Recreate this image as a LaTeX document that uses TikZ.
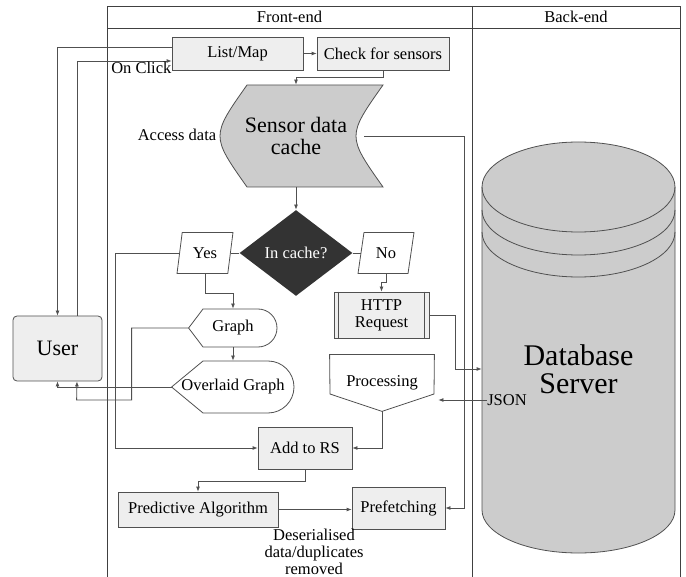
\documentclass[tikz,border=0pt]{standalone}
\usepackage{fontspec}
\setmainfont{Liberation Serif}
\usetikzlibrary{shapes.geometric,arrows.meta,calc}
\definecolor{linegray}{HTML}{505050}
\definecolor{boxfill}{HTML}{EEEEEE}
\definecolor{cachefill}{HTML}{CCCCCC}
\definecolor{darkfill}{HTML}{333333}
\newcommand{\txt}{\fontsize{16.5}{17}\selectfont}
\newcommand{\bigtxt}{\fontsize{22}{22}\selectfont}
\newcommand{\hugetxt}{\fontsize{30}{28}\selectfont}

\begin{document}
\begin{tikzpicture}[x=1pt, y=-1pt, line width=0.8pt,
    every node/.style={font=\txt, inner sep=0pt},
    link/.style={draw=linegray},
    arrow/.style={draw=linegray, -{Latex[length=5pt,width=4pt]}},
    process/.style={rectangle, draw=linegray, fill=boxfill, align=center},
    choice/.style={trapezium, draw=linegray, trapezium left angle=76,
      trapezium right angle=104, trapezium stretches=true,
      minimum width=56pt, minimum height=41pt},
    lane/.style={draw=black!75, line width=0.7pt}]

   \useasboundingbox (0,0) rectangle (686,577);

   % swimlanes
   \draw[lane] (107,577) -- (107,6) -- (680,6) -- (680,577);
   \draw[lane] (472,6) -- (472,577);
   \draw[lane] (107,28) -- (680,28);
   \node (front) at (289.5,17) {Front-end};
   \node (back)  at (576,17)   {Back-end};

   % database server
   \filldraw[draw=linegray, fill=cachefill] (482,187)
      arc[start angle=180, end angle=360, x radius=96.5, y radius=45]
      -- (675,510) arc[start angle=0, end angle=180, x radius=96.5, y radius=43]
      -- cycle;
   \foreach \y in {187,210,232}
      \draw[link] (482,\y) arc[start angle=180, end angle=0, x radius=96.5, y radius=45];
   \node[font=\hugetxt, align=center, minimum width=193pt] (db) at (578.5,369) {Database\\Server};

   % sensor data cache
   \filldraw[draw=linegray, fill=cachefill] (247,85) -- (383,85)
      .. controls (347,136) .. (383,187) -- (247,187)
      .. controls (211,136) .. (247,85) -- cycle;
   \node[font=\bigtxt, align=center, minimum width=136pt, minimum height=102pt] (cache) at (296,136) {Sensor data\\cache};

   \node[process, minimum width=131pt, minimum height=33pt] (listmap)  at (237.5,53.5) {List/Map};
   \node[process, minimum width=132pt, minimum height=33pt] (check)    at (383,53.5)   {Check for sensors};
   \node[process, rounded corners=4pt, font=\bigtxt,
         minimum width=89pt, minimum height=65pt]           (user)     at (57.5,348.5) {User};
   \node[process, minimum width=95pt, minimum height=46pt]  (http)     at (381.5,315)  {HTTP\\Request};
   \node[process, minimum width=94pt, minimum height=42pt]  (addrs)    at (305,448)    {Add to RS};
   \node[process, minimum width=160pt, minimum height=35pt] (pred)     at (198,509.5)  {Predictive Algorithm};
   \node[process, minimum width=93pt, minimum height=42pt]  (prefetch) at (398.5,508)  {Prefetching};
   \draw[link] ([xshift=5pt]http.north west) -- ([xshift=5pt]http.south west)
               ([xshift=-5pt]http.north east) -- ([xshift=-5pt]http.south east);

   \node[diamond, fill=darkfill, text=white, aspect=1.3,
         minimum width=113pt, minimum height=86pt] (incache) at (296,253) {In cache?};
   \node[choice] (yes) at (205,253) {Yes};
   \node[choice] (no)  at (386,253) {No};

   \node[minimum width=88pt, minimum height=38pt]  (graph)    at (233,328) {Graph};
   \node[minimum width=122pt, minimum height=52pt] (overlaid) at (233,387) {Overlaid Graph};
   \draw[link] (graph.west) -- (203,309) -- (258,309)
      arc[start angle=-90, end angle=90, radius=19] -- (203,347) -- cycle;
   \draw[link] (overlaid.west) -- (203,361) -- (268,361)
      arc[start angle=-90, end angle=90, radius=26] -- (203,413) -- cycle;

   \node[minimum width=104pt, minimum height=56pt] (proc) at (382,383) {Processing};
   \draw[link] (proc.north west) -- (proc.north east) -- (434,394) -- (proc.south) -- (330,394) -- cycle;

   \node (access)  at (177,135) {Access data};
   \node (json)    at (507,400) {JSON};
   \node[align=center] (removed) at (314,552) {Deserialised\\data/duplicates\\removed};

   \draw[arrow] (listmap) -- (check);
   \draw[arrow] (check.south) -- ++(0,7) -| (cache.north);
   \draw[arrow] (cache.south) -- (incache.north);
   \draw[link] (incache) -- (yes);
   \draw[link] (incache) -- (no);
   \draw[arrow] (yes.center |- yes.south) -- ++(0,19) -| (graph.north);
   \draw[arrow] (graph) -- (overlaid);
   \draw[arrow] (yes.west) -- ++(-63.5,0) |- (addrs.west);
   \draw[arrow] (no.center |- no.south) -- ++(0,8) -| (http.north);
   \draw[arrow] (http.east) -- ++(26,0) |- (db.west);
   \draw[arrow, shorten >=4pt] (json.west) -- (json.west -| proc.east);
   \draw[arrow] (proc.south) |- (addrs.east);
   \draw[arrow] (addrs.south) -- ++(0,12) -| (pred.north);
   \draw[arrow] (pred.east) -- (pred.east -| prefetch.west);
   \draw[arrow] (cache.east) -- ++(100,0) |- (prefetch.east);
   \draw[arrow] ([yshift=6.5pt]listmap.west) -| (user.north);
   \draw[arrow] ([xshift=19.5pt]user.north) |- node[pos=0.84, below=1pt] {On Click} ([yshift=-7.5pt]listmap.west);
   \draw[arrow] (graph.west) -- ++(-57,0) |- ++(-55,72) -- ([xshift=19.5pt]user.south);
   \draw[arrow] (overlaid.west) -| (user.south);
\end{tikzpicture}
\end{document}
